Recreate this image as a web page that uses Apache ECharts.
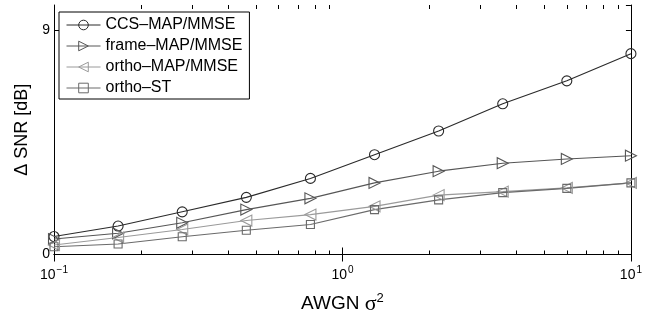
<!DOCTYPE html>
<html>
<head>
<meta charset="utf-8">
<script src="https://cdn.jsdelivr.net/npm/echarts@6/dist/echarts.min.js"></script>
<style>
  html, body { margin: 0; padding: 0; background: #fff; }
  #chart { width: 645px; height: 320px; }
</style>
</head>
<body>
<div id="chart"></div>
<script>
// Noise variance (log-spaced from 0.1 to 10)
const sigma2 = [0.1, 0.1668, 0.2783, 0.4642, 0.7743, 1.2915, 2.1544, 3.5938, 5.9948, 10];

// SNR gain in dB for each estimator
const ccsMapMmse   = [0.72, 1.14, 1.71, 2.29, 3.05, 4.00, 4.95, 6.04, 6.96, 8.05];
const frameMapMmse = [0.62, 0.85, 1.27, 1.80, 2.25, 2.87, 3.34, 3.66, 3.83, 3.96];
const orthoMapMmse = [0.38, 0.68, 1.00, 1.36, 1.60, 1.93, 2.38, 2.52, 2.67, 2.87];
const orthoSt      = [0.31, 0.42, 0.71, 0.97, 1.20, 1.80, 2.19, 2.48, 2.65, 2.87];

const seriesNames = ['CCS\u2013MAP/MMSE', 'frame\u2013MAP/MMSE', 'ortho\u2013MAP/MMSE', 'ortho\u2013ST'];
const yTicks = [0, 9];

const FONT = 'Liberation Sans, Arial, Helvetica, sans-serif';
const chart = echarts.init(document.getElementById('chart'), null, { renderer: 'canvas' });

function pairs(ys) { return sigma2.map((x, i) => [x, ys[i]]); }

function lineSeries(name, ys, color, symbol, rotate, size) {
  return {
    name: name,
    type: 'line',
    data: pairs(ys),
    symbol: symbol,
    symbolSize: size,
    symbolRotate: rotate,
    showAllSymbol: true,
    clip: false,
    lineStyle: { color: color, width: 1.1 },
    itemStyle: { color: 'rgba(255,255,255,0)', borderColor: color, borderWidth: 1.1 },
    emphasis: { disabled: true },
    z: 3
  };
}

function expLabel(v) {
  const e = Math.round(Math.log10(v));
  const s = e < 0 ? '\u2212' + (-e) : String(e);
  return '{b|10}{s|' + s + '}';
}

const option = {
  animation: false,
  backgroundColor: '#fff',
  grid: { left: 54, right: 10, top: 5, bottom: 61, containLabel: false },
  xAxis: [{
    type: 'log', logBase: 10, min: 0.1, max: 10,
    position: 'bottom',
    name: '{a|AWGN }{g|\u03c3}{p|2}',
    nameLocation: 'middle', nameGap: 37,
    nameTextStyle: {
      rich: {
        a: { fontFamily: FONT, fontSize: 19, color: '#000' },
        g: { fontFamily: 'Liberation Serif, DejaVu Serif, serif', fontSize: 22, color: '#000' },
        p: { fontFamily: FONT, fontSize: 13, color: '#000', verticalAlign: 'top', padding: [0, 0, 12, 0] }
      }
    },
    axisLine: { show: true, lineStyle: { color: '#000', width: 1 } },
    axisTick: { show: true, inside: true, length: 7, lineStyle: { color: '#000' } },
    splitLine: { show: false },
    axisLabel: {
      margin: 11,
      formatter: expLabel,
      rich: {
        b: { fontFamily: FONT, fontSize: 14, color: '#000' },
        s: { fontFamily: FONT, fontSize: 10, color: '#000', verticalAlign: 'top', padding: [0, 0, 9, 1] }
      }
    }
  }, {
    type: 'log', logBase: 10, min: 0.1, max: 10,
    position: 'top',
    axisLine: { show: true, lineStyle: { color: '#000', width: 1 } },
    axisTick: { show: true, inside: true, length: 7, lineStyle: { color: '#000' } },
    axisLabel: { show: false },
    splitLine: { show: false }
  }],
  yAxis: [{
    type: 'value', min: 0, max: 10, interval: 9,
    position: 'left',
    name: '\u0394 SNR [dB]',
    nameLocation: 'middle', nameGap: 20,
    nameTextStyle: { fontFamily: FONT, fontSize: 18, color: '#000' },
    axisLine: { show: true, lineStyle: { color: '#000', width: 1 } },
    axisTick: { show: true, inside: true, length: 5, lineStyle: { color: '#000' } },
    axisLabel: {
      showMaxLabel: false, margin: 4,
      fontFamily: FONT, fontSize: 14, color: '#000',
      formatter: v => (yTicks.indexOf(v) >= 0 ? String(v) : '')
    },
    splitLine: { show: false }
  }, {
    type: 'value', min: 0, max: 10, interval: 9,
    position: 'right',
    axisLine: { show: true, lineStyle: { color: '#000', width: 1 } },
    axisTick: { show: true, inside: true, length: 5, lineStyle: { color: '#000' } },
    axisLabel: { show: false },
    splitLine: { show: false }
  }],
  legend: {
    orient: 'vertical',
    left: 59, top: 12,
    padding: [5, 7, 3, 7],
    itemGap: 5,
    itemWidth: 34, itemHeight: 12,
    backgroundColor: '#fff',
    borderColor: '#000', borderWidth: 1,
    lineStyle: { width: 1 },
    itemStyle: { borderWidth: 1 },
    textStyle: { fontFamily: FONT, fontSize: 16, color: '#000', padding: [0, 0, 0, 0] },
    data: seriesNames
  },
  series: [
    lineSeries(seriesNames[0], ccsMapMmse, '#2a2a2a', 'circle', 0, 10),
    lineSeries(seriesNames[1], frameMapMmse, '#565656', 'triangle', -90, 11),
    lineSeries(seriesNames[2], orthoMapMmse, '#9a9a9a', 'triangle', 90, 11),
    lineSeries(seriesNames[3], orthoSt, '#6a6a6a', 'rect', 0, 8)
  ]
};

chart.setOption(option);

// Minor log ticks (2..9 of each decade) along the bottom and top axes
(function addMinorTicks() {
  const yBottom = chart.convertToPixel({ yAxisIndex: 0 }, 0);
  const yTop = chart.convertToPixel({ yAxisIndex: 0 }, 10);
  const shapes = [];
  [0.1, 1].forEach(decade => {
    for (let m = 2; m <= 9; m++) {
      const x = Math.round(chart.convertToPixel({ xAxisIndex: 0 }, m * decade)) + 0.5;
      shapes.push({ type: 'line', shape: { x1: x, y1: yBottom, x2: x, y2: yBottom - 4 }, style: { stroke: '#000', lineWidth: 1 }, silent: true });
      shapes.push({ type: 'line', shape: { x1: x, y1: yTop, x2: x, y2: yTop + 4 }, style: { stroke: '#000', lineWidth: 1 }, silent: true });
    }
  });
  chart.setOption({ graphic: shapes });
})();
</script>
</body>
</html>
